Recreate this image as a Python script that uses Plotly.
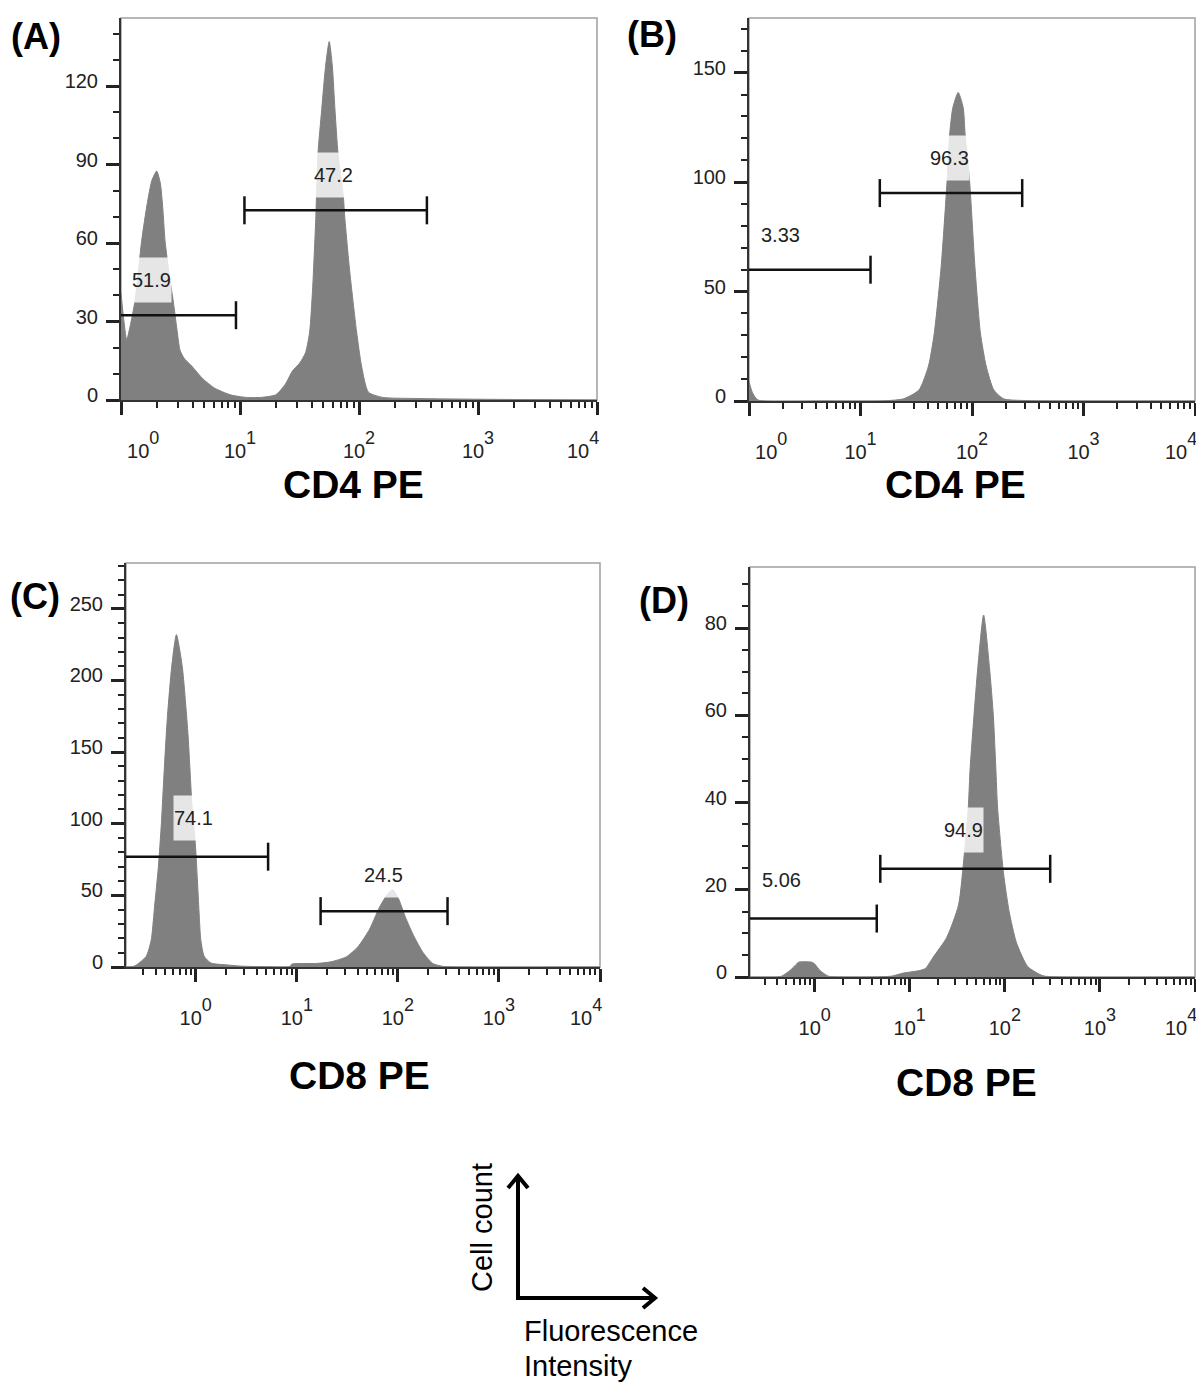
import numpy as np
import plotly.graph_objects as go

# the page puts an 8px body margin round the figure, so the figure is drawn
# 8px smaller and every position below is given in page pixels
PAGE_W, PAGE_H, PAGE_MARGIN = 1204, 1385, 8
W, H = PAGE_W - PAGE_MARGIN, PAGE_H - PAGE_MARGIN
FONT = "Liberation Sans, Arial, Helvetica, sans-serif"
NB = "\u00a0"

# ---- values (fluorescence intensity, cell count) ----
a_intensity = [1.0, 1.047, 1.117, 1.191, 1.312, 1.493, 1.66, 1.82, 1.995, 2.138,
               2.239, 2.344, 2.541, 2.754, 2.951, 3.133, 3.388, 3.926, 4.898, 6.138,
               8.28, 11.2, 15.1, 20.0, 24.0, 27.5, 31.6, 35.5, 38.5, 40.7,
               43.3, 45.2, 48.6, 52.5, 56.2, 59.6, 62.8, 66.7, 73.8, 76.2,
               83.2, 95.5, 105, 120, 158, 282, 1000, 10000]
a_count = [41, 32, 23, 28, 38, 61, 75, 84, 87.5, 83,
           74, 61, 48, 37.5, 27, 19, 16, 13, 8, 4.5,
           2, 1, 1, 2, 6, 11, 14, 18, 26, 42,
           69, 94, 111, 128, 137, 128, 111, 94, 78, 69,
           50, 26, 13, 3, 1, 0.6, 0.3, 0]

b_intensity = [1.0, 1.07, 1.2, 5.0, 15.0, 24.3, 33.4, 40.7, 45.9, 53.0,
               59.7, 63.1, 67.3, 75.2, 83.4, 86.7, 95.3, 106, 119, 134,
               157, 192, 300, 10000]
b_count = [9, 4, 0.5, 0, 0, 1, 5, 16, 31, 62,
           100, 122, 134, 141, 134, 122, 100, 62, 31, 16,
           5, 1, 0.2, 0]

c_intensity = [0.204, 0.24, 0.261, 0.324, 0.363, 0.389, 0.427, 0.457, 0.49, 0.525,
               0.579, 0.644, 0.735, 0.839, 0.916, 0.991, 1.04, 1.079, 1.122, 1.211,
               1.413, 2.075, 2.818, 5.01, 8.51, 8.91, 15.8, 21.7, 30.8, 40.1,
               52.2, 65.0, 77.4, 88.5, 101, 120, 143, 178, 222, 275,
               398, 10000]
c_count = [0, 0.3, 1.6, 7.5, 19, 40, 70, 100, 140, 175,
           210, 232, 210, 162, 114, 86, 60, 38, 19, 7.5,
           2.8, 1.4, 0.6, 0.2, 0.3, 2, 2.5, 3.6, 7, 14,
           26, 41, 50, 54, 48, 34, 22, 10, 2.4, 0.5,
           0, 0]

d_intensity = [0.209, 0.398, 0.45, 0.55, 0.647, 0.676, 0.794, 0.931, 1.0, 1.138,
               1.39, 2.0, 3.98, 6.46, 8.55, 12.8, 14.7, 17.7, 24.4, 32.6,
               37.4, 41.3, 43.2, 47.4, 52.0, 59.8, 68.9, 75.7, 80.4, 83.8,
               96.6, 111, 132, 174, 251, 398, 10000]
d_count = [0, 0, 0.2, 1.5, 3.0, 3.4, 3.5, 3.4, 3.0, 1.5,
           0.2, 0, 0, 0.2, 0.9, 1.5, 2, 4.6, 9, 16.5,
           28, 39, 48, 60, 71, 83, 71, 60, 48, 39,
           24, 15, 8, 2.4, 0.3, 0, 0]

# gates: (low, high, level); a low value below the axis means the gate is open to the left
a_gates = [(0.5, 9.25, 32.4), (10.9, 372, 72.5)]
b_gates = [(0.5, 12.3, 60), (14.9, 282, 95)]
c_gates = [(0.1, 5.2, 77), (17.2, 310, 39)]
d_gates = [(0.1, 4.5, 13.4), (4.9, 300, 24.8)]

# gate percentages and where they are printed (intensity, count)
a_labels = [("51.9", 1.79, 46), ("47.2", 60.5, 86)]
b_labels = [("3.33", 1.9, 76), ("96.3", 63, 111)]
c_labels = [("74.1", 0.96, 104), ("24.5", 71.6, 64)]
d_labels = [("5.06", 0.443, 22.2), ("94.9", 36.5, 33.6)]

panels = [
    dict(tag="(A)", title="CD4 PE", x=a_intensity, y=a_count, gates=a_gates, labels=a_labels,
         box=(121, 18, 597, 400), xr=[0, 4], ymax=146, major=30, minor=10,
         pad_first=True, title_at=(354, 484), tag_at=(36, 36)),
    dict(tag="(B)", title="CD4 PE", x=b_intensity, y=b_count, gates=b_gates, labels=b_labels,
         box=(749, 18, 1195, 401), xr=[0, 4], ymax=175, major=50, minor=10,
         pad_first=True, title_at=(955, 484), tag_at=(652, 34)),
    dict(tag="(C)", title="CD8 PE", x=c_intensity, y=c_count, gates=c_gates, labels=c_labels,
         box=(126, 563, 600, 967), xr=[-0.69, 4], ymax=282, major=50, minor=10,
         pad_first=False, title_at=(359, 1075), tag_at=(35, 596)),
    dict(tag="(D)", title="CD8 PE", x=d_intensity, y=d_count, gates=d_gates, labels=d_labels,
         box=(750, 567, 1195, 977), xr=[-0.68, 4], ymax=94, major=20, minor=5,
         pad_first=False, title_at=(966, 1082), tag_at=(664, 600)),
]


def px(x):
    return (x - PAGE_MARGIN) / W


def py(y):
    return 1 - (y - PAGE_MARGIN) / H


minor_x = [k * 10 ** d for d in range(-1, 4) for k in range(2, 10)]

fig = go.Figure()
annotations = []
shapes = []

for i, p in enumerate(panels):
    n = "" if i == 0 else str(i + 1)
    xa, ya = "x" + n, "y" + n
    l, t, r, b = p["box"]

    # histogram
    fig.add_trace(go.Scatter(
        x=p["x"], y=p["y"], xaxis=xa, yaxis=ya, mode="lines",
        line=dict(color="#808080", width=1, shape="spline", smoothing=0.6),
        fill="tozeroy", fillcolor="#808080", hoverinfo="skip",
    ))

    # gates
    for lo, hi, lvl in p["gates"]:
        fig.add_trace(go.Scatter(
            x=[lo, hi], y=[lvl, lvl], xaxis=xa, yaxis=ya, mode="lines+markers",
            line=dict(color="#111111", width=2.5),
            marker=dict(symbol="line-ns", size=20, color="#111111",
                        line=dict(color="#111111", width=2.5)),
            cliponaxis=True, hoverinfo="skip",
        ))

    for text, lx, ly in p["labels"]:
        annotations.append(dict(
            x=np.log10(lx), y=ly, xref=xa, yref=ya, text=text, showarrow=False,
            font=dict(family=FONT, size=20, color="#222222"),
            bgcolor="rgba(255,255,255,0.8)", height=44, borderpad=0,
        ))

    # decade labels with a large, high exponent as in the original
    ticktext = [f"10<sup><sup><span style='font-size:18px'>{d}</span></sup></sup>"
                for d in range(5)]
    if p["pad_first"]:
        ticktext[0] = NB * 8 + ticktext[0]
    ticktext[-1] = ticktext[-1] + NB * 5

    fig.update_layout(**{
        "xaxis" + n: dict(
            type="log", range=p["xr"], domain=[px(l), px(r)], anchor=ya,
            showline=True, linecolor="#333333", linewidth=2,
            ticks="outside", ticklen=13, tickwidth=3, tickcolor="#222222",
            tickmode="array", tickvals=[1, 10, 100, 1000, 10000], ticktext=ticktext,
            tickfont=dict(family=FONT, size=20, color="#222222"),
            ticklabelstandoff=19, ticklabeloverflow="allow",
            minor=dict(tickmode="array", tickvals=minor_x, ticks="outside",
                       ticklen=6, tickwidth=2, tickcolor="#222222"),
            showgrid=False, zeroline=False, fixedrange=True,
        ),
        "yaxis" + n: dict(
            range=[0, p["ymax"]], domain=[py(b), py(t)], anchor=xa,
            showline=True, linecolor="#333333", linewidth=2,
            ticks="outside", ticklen=13, tickwidth=3, tickcolor="#222222",
            tick0=0, dtick=p["major"],
            tickfont=dict(family=FONT, size=20, color="#222222"),
            ticklabelstandoff=4, ticklabelshift=-5,
            minor=dict(dtick=p["minor"], tick0=0, ticks="outside",
                       ticklen=6, tickwidth=2, tickcolor="#222222"),
            showgrid=False, zeroline=False, fixedrange=True,
        ),
    })

    # light frame around the plot area
    shapes.append(dict(type="rect", xref=xa + " domain", yref=ya + " domain",
                       x0=0, x1=1, y0=0, y1=1, layer="below",
                       line=dict(color="#a0a0a0", width=1.5)))

    annotations.append(dict(
        x=px(p["title_at"][0]), y=py(p["title_at"][1]), xref="paper", yref="paper",
        text="<b>" + p["title"] + "</b>", showarrow=False,
        xanchor="center", yanchor="middle",
        font=dict(family=FONT, size=39, color="#000000"),
    ))
    annotations.append(dict(
        x=px(p["tag_at"][0]), y=py(p["tag_at"][1]), xref="paper", yref="paper",
        text="<b>" + p["tag"] + "</b>", showarrow=False,
        xanchor="center", yanchor="middle",
        font=dict(family=FONT, size=36, color="#000000"),
    ))

# axis key at the bottom
corner = (518, 1298)
up_tip = (518, 1176)
right_tip = (655, 1298)


def path(points):
    return "M " + " L ".join(f"{px(x):.5f},{py(y):.5f}" for x, y in points)


shapes.append(dict(type="path", xref="paper", yref="paper",
                   path=path([up_tip, corner, right_tip]),
                   line=dict(color="#000000", width=4)))
shapes.append(dict(type="path", xref="paper", yref="paper",
                   path=path([(up_tip[0] - 10, up_tip[1] + 12), up_tip,
                              (up_tip[0] + 10, up_tip[1] + 12)]),
                   line=dict(color="#000000", width=4)))
shapes.append(dict(type="path", xref="paper", yref="paper",
                   path=path([(right_tip[0] - 12, right_tip[1] - 10), right_tip,
                              (right_tip[0] - 12, right_tip[1] + 10)]),
                   line=dict(color="#000000", width=4)))

annotations.append(dict(x=px(482), y=py(1228), xref="paper", yref="paper",
                        text="Cell count", textangle=-90, showarrow=False,
                        xanchor="center", yanchor="middle",
                        font=dict(family=FONT, size=29, color="#000000")))
annotations.append(dict(x=px(522), y=py(1331), xref="paper", yref="paper",
                        text="Fluorescence", showarrow=False,
                        xanchor="left", yanchor="middle",
                        font=dict(family=FONT, size=29, color="#000000")))
annotations.append(dict(x=px(522), y=py(1366), xref="paper", yref="paper",
                        text="Intensity", showarrow=False,
                        xanchor="left", yanchor="middle",
                        font=dict(family=FONT, size=29, color="#000000")))

fig.update_layout(
    width=W, height=H,
    margin=dict(l=0, r=0, t=0, b=0, autoexpand=False),
    paper_bgcolor="white", plot_bgcolor="white",
    showlegend=False,
    annotations=annotations,
    shapes=shapes,
)

fig.write_html("out.html")
